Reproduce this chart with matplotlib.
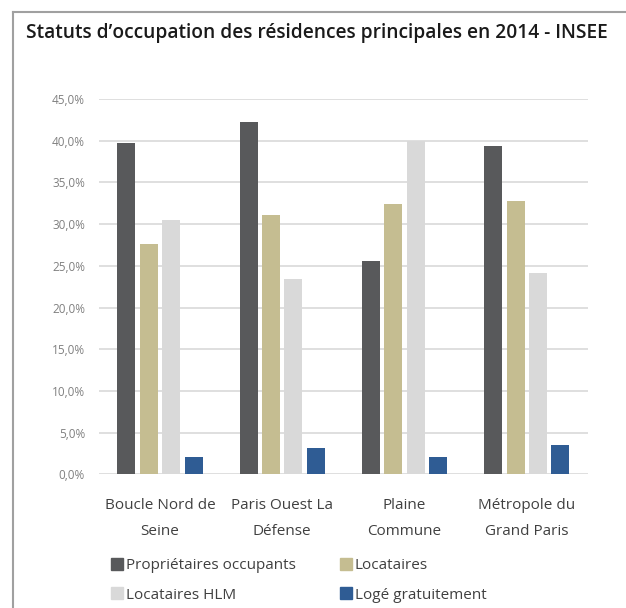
import numpy as np
import matplotlib.pyplot as plt
from matplotlib.lines import Line2D

plt.rcParams['font.family'] = ['Open Sans', 'DejaVu Sans']

# Donnees
territoires = ['Boucle Nord de\nSeine', 'Paris Ouest La\nDéfense', 'Plaine\nCommune', 'Métropole du\nGrand Paris']
proprietaires = [39.7, 42.3, 25.6, 39.4]
locataires = [27.6, 31.1, 32.4, 32.8]
locataires_hlm = [30.5, 23.4, 40.0, 24.2]
loge_gratuit = [2.1, 3.1, 2.1, 3.5]

series = [proprietaires, locataires, locataires_hlm, loge_gratuit]
noms = ['Propriétaires occupants', 'Locataires', 'Locataires HLM', 'Logé gratuitement']
couleurs = ['#58595b', '#c5bd91', '#d9d9d9', '#2f5c94']

fig = plt.figure(figsize=(6.26, 6.08), dpi=100)
ax = fig.add_axes([0.158, 0.22, 0.781, 0.617])

x = np.arange(len(territoires))
pas = 0.183
largeur = 0.147
for i, (vals, nom, c) in enumerate(zip(series, noms, couleurs)):
    ax.bar(x + (i - 1.5) * pas, vals, largeur, color=c, label=nom, zorder=3)

ax.set_xlim(-0.5, 3.5)
ax.set_ylim(0, 45)
ax.set_yticks(np.arange(0, 46, 5))
ax.set_yticklabels([f'{v:.1f}%'.replace('.', ',') for v in np.arange(0, 46, 5)],
                   color='#808080', fontsize=8.5)
ax.set_xticks(x)
ax.set_xticklabels(territoires, color='#404040', fontsize=11, linespacing=2.0)
ax.tick_params(length=0, axis='both')
ax.tick_params(axis='y', pad=10)
ax.tick_params(axis='x', pad=17)
ax.grid(axis='y', color='#dcdcdc', linewidth=1.3, zorder=0)
for s in ax.spines.values():
    s.set_visible(False)

# Titre
fig.text(0.042, 0.945, 'Statuts d\u2019occupation des résidences principales en 2014 - INSEE',
         fontsize=13.8, fontweight='semibold', color='#1a1a1a', va='center', ha='left')

# Legende (ordre ligne par ligne)
ordre = [0, 2, 1, 3]
poignees = [Line2D([], [], marker='s', linestyle='none', markersize=9, color=couleurs[k]) for k in ordre]
fig.legend(poignees, [noms[k] for k in ordre], ncol=2, loc='lower left',
           bbox_to_anchor=(0.155, -0.014), frameon=False, fontsize=11,
           handletextpad=0.2, columnspacing=2.85, labelcolor='#404040',
           handlelength=0.8, labelspacing=0.95)

# Cadre
fig.add_artist(Line2D([0.02, 1.0], [0.98, 0.98], color='#a0a0a0', linewidth=1.5))
fig.add_artist(Line2D([0.021, 0.021], [0.0, 0.98], color='#a0a0a0', linewidth=1.5))

plt.savefig('out.png', dpi=100)
